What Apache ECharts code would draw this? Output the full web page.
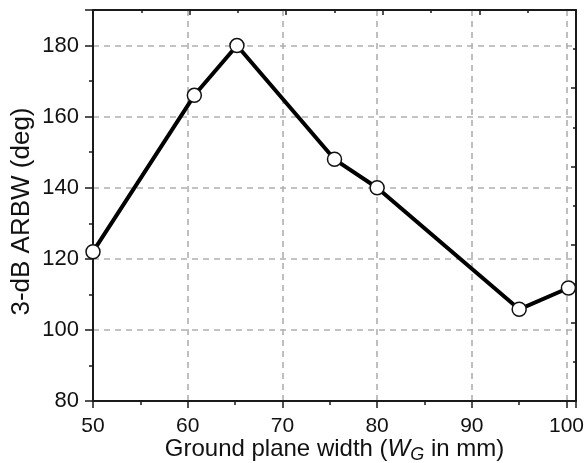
<!DOCTYPE html>
<html>
<head>
<meta charset="utf-8">
<script src="https://cdn.jsdelivr.net/npm/echarts@6/dist/echarts.min.js"></script>
<style>
html,body{margin:0;padding:0;background:#fff;}
#c{width:585px;height:463px;}
</style>
</head>
<body>
<div id="c"></div>
<script>
const widths = [50, 60.7, 65.2, 75.5, 80, 95, 100.2];
const arbw = [122, 166, 180, 148, 140, 105.8, 111.8];
const yTickLabels = [80, 100, 120, 140, 160, 180];
const xTickLabels = [50, 60, 70, 80, 90, 100];

const chart = echarts.init(document.getElementById('c'));
const fontFam = '"Liberation Sans", Arial, sans-serif';
const axisColor = '#1a1a1a';
const gridLine = {show: true, lineStyle: {color: '#b0b0b0', width: 1.6, type: [6, 5]}};

chart.setOption({
  backgroundColor: '#ffffff',
  animation: false,
  grid: {left: 93, right: 9, top: 10, bottom: 62, containLabel: false, outerBoundsMode: 'none'},
  xAxis: [{
    type: 'value', min: 50, max: 101, interval: 10,
    position: 'bottom',
    name: '{a|Ground plane width (}{i|W}{s|G}{a| in mm)}',
    nameLocation: 'middle', nameGap: 33, nameMoveOverlap: false,
    nameTextStyle: {
      rich: {
        a: {fontFamily: fontFam, fontSize: 24, color: '#111'},
        i: {fontFamily: fontFam, fontSize: 24, fontStyle: 'italic', color: '#111'},
        s: {fontFamily: fontFam, fontSize: 18, fontStyle: 'italic', color: '#111', padding: [12, 0, 0, 0]}
      }
    },
    axisLine: {show: true, onZero: false, lineStyle: {color: axisColor, width: 2}},
    axisTick: {show: true, inside: false, length: 7, lineStyle: {color: axisColor, width: 1.5}},
    minorTick: {show: true, splitNumber: 2, length: 4, lineStyle: {color: axisColor, width: 1.5}},
    axisLabel: {
      margin: 15, fontFamily: fontFam, fontSize: 21, color: '#111',
      formatter: v => (xTickLabels.indexOf(v) >= 0 ? String(v) : '')
    },
    splitLine: gridLine
  }, {
    type: 'value', min: 0, max: 5, interval: 1, position: 'top',
    axisLine: {show: true, onZero: false, lineStyle: {color: axisColor, width: 2}},
    axisTick: {show: true, inside: true, length: 5, lineStyle: {color: axisColor, width: 1.5}},
    minorTick: {show: true, splitNumber: 2, length: 3, lineStyle: {color: axisColor, width: 1.5}},
    axisLabel: {show: false},
    splitLine: {show: false}
  }],
  yAxis: [{
    type: 'value', min: 80, max: 190, interval: 20,
    position: 'left',
    name: '3-dB ARBW (deg)',
    nameLocation: 'middle', nameGap: 58, nameMoveOverlap: false,
    nameTextStyle: {fontFamily: fontFam, fontSize: 26, color: '#111', padding: [0, 12, 0, 0]},
    axisLine: {show: true, onZero: false, lineStyle: {color: axisColor, width: 2}},
    axisTick: {show: true, inside: false, length: 8, lineStyle: {color: axisColor, width: 1.5}},
    minorTick: {show: true, splitNumber: 2, length: 4, lineStyle: {color: axisColor, width: 1.5}},
    axisLabel: {
      margin: 14, fontFamily: fontFam, fontSize: 22, color: '#111',
      formatter: v => (yTickLabels.indexOf(v) >= 0 ? String(v) : '')
    },
    splitLine: gridLine
  }, {
    type: 'value', min: 0, max: 5, interval: 1, position: 'right',
    axisLine: {show: true, onZero: false, lineStyle: {color: axisColor, width: 2}},
    axisTick: {show: true, inside: true, length: 5, lineStyle: {color: axisColor, width: 1.5}},
    minorTick: {show: true, splitNumber: 2, length: 3, lineStyle: {color: axisColor, width: 1.5}},
    axisLabel: {show: false},
    splitLine: {show: false}
  }],
  series: [{
    type: 'line',
    xAxisIndex: 0, yAxisIndex: 0,
    data: widths.map((w, i) => [w, arbw[i]]),
    lineStyle: {color: '#000', width: 4},
    symbol: 'circle', symbolSize: 14,
    itemStyle: {color: '#ffffff', borderColor: '#111', borderWidth: 1.5},
    clip: false,
    z: 5
  }]
});
</script>
</body>
</html>
